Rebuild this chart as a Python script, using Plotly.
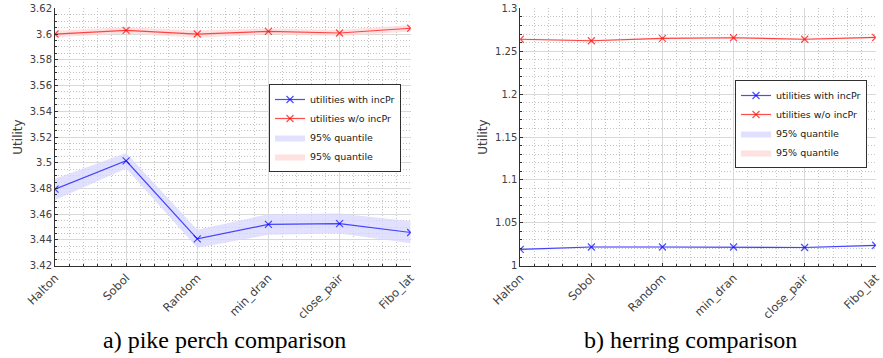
import plotly.graph_objects as go

methods = ["Halton", "Sobol", "Random", "min_dran", "close_pair", "Fibo_lat"]

# a) pike perch
pp_with = [3.4795, 3.5015, 3.4408, 3.4521, 3.4527, 3.4458]
pp_with_lo = [3.4710, 3.4955, 3.4340, 3.4440, 3.4450, 3.4375]
pp_with_hi = [3.4875, 3.5075, 3.4480, 3.4600, 3.4605, 3.4545]
pp_wo = [3.6000, 3.6029, 3.6000, 3.6021, 3.6008, 3.6045]
pp_wo_lo = [3.5975, 3.6005, 3.5972, 3.5998, 3.5985, 3.6020]
pp_wo_hi = [3.6025, 3.6053, 3.6028, 3.6044, 3.6031, 3.6070]

# b) herring
he_with = [1.0190, 1.0218, 1.0218, 1.0218, 1.0212, 1.0238]
he_with_lo = [1.0180, 1.0208, 1.0208, 1.0208, 1.0202, 1.0228]
he_with_hi = [1.0200, 1.0228, 1.0228, 1.0228, 1.0222, 1.0248]
he_wo = [1.2639, 1.2622, 1.2650, 1.2657, 1.2639, 1.2660]
he_wo_lo = [1.2629, 1.2612, 1.2640, 1.2647, 1.2629, 1.2650]
he_wo_hi = [1.2649, 1.2632, 1.2660, 1.2667, 1.2649, 1.2670]

captions = ["a) pike perch comparison", "b) herring comparison"]

idx = list(range(len(methods)))
BLUE = "rgba(0,0,255,0.7)"
RED = "rgba(255,0,0,0.7)"
BLUE_F = "rgba(215,215,255,0.75)"
RED_F = "rgba(255,215,215,0.75)"

fig = go.Figure()

def add_panel(xa, ya, leg, w, wlo, whi, wo, wolo, wohi):
    fig.add_trace(go.Scatter(x=idx + idx[::-1], y=whi + wlo[::-1], fill="toself",
                             fillcolor=BLUE_F, line=dict(width=0), mode="lines",
                             name="95% quantile", xaxis=xa, yaxis=ya, legend=leg,
                             legendrank=3, hoverinfo="skip"))
    fig.add_trace(go.Scatter(x=idx + idx[::-1], y=wohi + wolo[::-1], fill="toself",
                             fillcolor=RED_F, line=dict(width=0), mode="lines",
                             name="95% quantile", xaxis=xa, yaxis=ya, legend=leg,
                             legendrank=4, hoverinfo="skip"))
    fig.add_trace(go.Scatter(x=idx, y=w, mode="lines+markers", name="utilities with incPr",
                             line=dict(color=BLUE, width=1.2),
                             marker=dict(symbol="x-thin", size=7, line=dict(color=BLUE, width=1.2)),
                             xaxis=xa, yaxis=ya, legend=leg, legendrank=1))
    fig.add_trace(go.Scatter(x=idx, y=wo, mode="lines+markers", name="utilities w/o incPr",
                             line=dict(color=RED, width=1.2),
                             marker=dict(symbol="x-thin", size=7, line=dict(color=RED, width=1.2)),
                             xaxis=xa, yaxis=ya, legend=leg, legendrank=2))

add_panel("x", "y", "legend", pp_with, pp_with_lo, pp_with_hi, pp_wo, pp_wo_lo, pp_wo_hi)
add_panel("x2", "y2", "legend2", he_with, he_with_lo, he_with_hi, he_wo, he_wo_lo, he_wo_hi)

AX = "#303030"
GRID = "#d9d9d9"
MINOR = "#c4c4c4"
ytickfont = dict(family="DejaVu Sans", size=10, color="#404040")
xtickfont = dict(family="DejaVu Sans", size=11.5, color="#404040")

xcommon = dict(tickvals=idx, ticktext=methods, range=[0, len(methods) - 1], tickangle=-45,
               showline=True, linecolor=AX, linewidth=1, ticks="inside", ticklen=3,
               tickcolor=AX, showgrid=True, gridcolor=GRID, gridwidth=1, zeroline=False,
               tickfont=xtickfont, automargin=False,
               minor=dict(dtick=0.2, tick0=0, showgrid=True, gridcolor=MINOR, griddash="1px,2px",
                          ticks="inside", ticklen=2, tickcolor=AX))

def ycommon(rng, dt, mdt):
    return dict(range=rng, dtick=dt, tick0=rng[0], showline=True, linecolor=AX, linewidth=1,
                ticks="inside", ticklen=3, tickcolor=AX, showgrid=True, gridcolor=GRID,
                zeroline=False, tickfont=ytickfont, automargin=False,
                title=dict(text="Utility", font=dict(family="DejaVu Sans", size=12, color="#404040"),
                           standoff=4),
                minor=dict(dtick=mdt, tick0=rng[0], showgrid=True, gridcolor=MINOR, griddash="1px,2px",
                           ticks="inside", ticklen=2, tickcolor=AX))

ytop = 1 - 8.3 / 358
ybot = 1 - 265.7 / 358

legstyle = dict(bgcolor="white", bordercolor="#303030", borderwidth=1,
                font=dict(family="DejaVu Sans", size=9.5, color="#202020"),
                xanchor="left", yanchor="middle", tracegroupgap=0, itemwidth=30)

fig.update_layout(
    width=883, height=358, margin=dict(l=0, r=0, t=0, b=0, autoexpand=False),
    paper_bgcolor="white", plot_bgcolor="white", showlegend=True,
    xaxis=dict(domain=[55 / 883, 410.7 / 883], anchor="y", **xcommon),
    yaxis=dict(domain=[ybot, ytop], anchor="x", **ycommon([3.42, 3.62], 0.02, 0.005)),
    xaxis2=dict(domain=[520.3 / 883, 875.7 / 883], anchor="y2", **xcommon),
    yaxis2=dict(domain=[ybot, ytop], anchor="x2", **ycommon([1.0, 1.3], 0.05, 0.01)),
    legend=dict(x=269 / 883, y=1 - 128 / 358, **legstyle),
    legend2=dict(x=735 / 883, y=1 - 124 / 358, **legstyle),
    annotations=[
        dict(text=captions[0], x=224.5 / 883, y=1 - 340 / 358, xref="paper", yref="paper",
             showarrow=False, xanchor="center", yanchor="middle",
             font=dict(family="Liberation Serif", size=24, color="black")),
        dict(text=captions[1], x=690 / 883, y=1 - 340 / 358, xref="paper", yref="paper",
             showarrow=False, xanchor="center", yanchor="middle",
             font=dict(family="Liberation Serif", size=24, color="black")),
    ],
)

fig.write_html("out.html")
